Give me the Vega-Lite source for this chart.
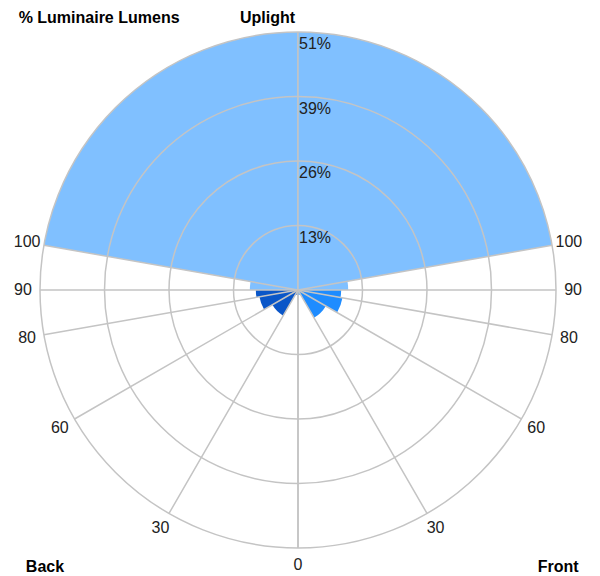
{
  "$schema": "https://vega.github.io/schema/vega-lite/v6.json",
  "width": 596,
  "height": 500,
  "autosize": "none",
  "padding": {"left": 0, "top": 40, "right": 4, "bottom": 36},
  "config": {"view": {"stroke": null}, "text": {"font": "Liberation Sans", "fontSize": 16, "fill": "#222222"}},
  "datasets": {
    "zones": [
      {"zone": "UH", "side": "Back", "group": "Uplight", "from": 100, "to": 180, "pct": 51.4},
      {"zone": "UL", "side": "Back", "group": "Uplight", "from": 90, "to": 100, "pct": 9.6},
      {"zone": "BVH", "side": "Back", "group": "Backlight", "from": 80, "to": 90, "pct": 8.4},
      {"zone": "BH", "side": "Back", "group": "Backlight", "from": 60, "to": 80, "pct": 7.8},
      {"zone": "BM", "side": "Back", "group": "Backlight", "from": 30, "to": 60, "pct": 5.9},
      {"zone": "BL", "side": "Back", "group": "Backlight", "from": 0, "to": 30, "pct": 1.0},
      {"zone": "UH", "side": "Front", "group": "Uplight", "from": 100, "to": 180, "pct": 51.4},
      {"zone": "UL", "side": "Front", "group": "Uplight", "from": 90, "to": 100, "pct": 10.0},
      {"zone": "FVH", "side": "Front", "group": "Forward", "from": 80, "to": 90, "pct": 8.6},
      {"zone": "FH", "side": "Front", "group": "Forward", "from": 60, "to": 80, "pct": 9.0},
      {"zone": "FM", "side": "Front", "group": "Forward", "from": 30, "to": 60, "pct": 6.4},
      {"zone": "FL", "side": "Front", "group": "Forward", "from": 0, "to": 30, "pct": 1.0}
    ],
    "spokes": [{"angle": 0}, {"angle": 30}, {"angle": 60}, {"angle": 80}, {"angle": 90}, {"angle": 100}, {"angle": 180}],
    "rings": [{"ring": 12.85, "label": "13%"}, {"ring": 25.7, "label": "26%"}, {"ring": 38.55, "label": "39%"}, {"ring": 51.4, "label": "51%"}],
    "annotations": [{"label": "Back", "side": "Back"}, {"label": "Front", "side": "Front"}, {"label": "Uplight", "side": "Top"}, {"label": "% Luminaire Lumens", "side": "Title"}]
  },
  "resolve": {"scale": {"theta": "independent"}},
  "layer": [
    {
      "layer": [
        {
          "data": {"name": "zones"},
          "transform": [{"filter": "datum.side === 'Back'"}],
          "mark": {"type": "arc"},
          "encoding": {
            "theta": {"field": "from", "type": "quantitative", "stack": false, "scale": {"domain": [0, 180], "range": [3.14159265, 6.28318531]}},
            "theta2": {"field": "to"},
            "radius": {"field": "pct", "type": "quantitative", "scale": {"domain": [0, 51.4], "range": [0, 258], "zero": true, "nice": false}},
            "color": {"field": "group", "type": "nominal", "scale": {"domain": ["Uplight", "Backlight", "Forward"], "range": ["#80C0FF", "#0A56C8", "#1E8CFF"]}, "legend": null}
          }
        },
        {
          "data": {"name": "rings"},
          "mark": {"type": "arc", "filled": false, "stroke": "#C4C4C4", "strokeWidth": 1.5},
          "encoding": {
            "theta": {"datum": 0, "type": "quantitative", "stack": false, "scale": {"domain": [0, 180], "range": [3.14159265, 6.28318531]}},
            "theta2": {"datum": 180},
            "radius": {"field": "ring", "type": "quantitative", "scale": {"domain": [0, 51.4], "range": [0, 258], "zero": true, "nice": false}},
            "radius2": {"field": "ring"}
          }
        },
        {
          "data": {"name": "spokes"},
          "mark": {"type": "arc", "filled": false, "stroke": "#C4C4C4", "strokeWidth": 1.5},
          "encoding": {
            "theta": {"field": "angle", "type": "quantitative", "stack": false, "scale": {"domain": [0, 180], "range": [3.14159265, 6.28318531]}},
            "theta2": {"field": "angle"},
            "radius": {"datum": 51.4, "type": "quantitative", "scale": {"domain": [0, 51.4], "range": [0, 258], "zero": true, "nice": false}},
            "radius2": {"datum": 0}
          }
        },
        {
          "data": {"name": "spokes"},
          "transform": [{"filter": "datum.angle < 180"}],
          "mark": {"type": "text", "align": "center", "baseline": "middle"},
          "encoding": {
            "theta": {"field": "angle", "type": "quantitative", "stack": false, "scale": {"domain": [0, 180], "range": [3.14159265, 6.28318531]}},
            "radius": {"datum": 54.8, "type": "quantitative", "scale": {"domain": [0, 51.4], "range": [0, 258], "zero": true, "nice": false}},
            "text": {"field": "angle", "type": "nominal"}
          }
        },
        {
          "data": {"name": "annotations"},
          "transform": [{"filter": "datum.side === 'Back'"}],
          "mark": {"type": "text", "align": "center", "baseline": "middle", "fontWeight": "bold", "fill": "#000000"},
          "encoding": {
            "theta": {"datum": 42.4, "type": "quantitative", "stack": false, "scale": {"domain": [0, 180], "range": [3.14159265, 6.28318531]}},
            "radius": {"datum": 74.75, "type": "quantitative", "scale": {"domain": [0, 51.4], "range": [0, 258], "zero": true, "nice": false}},
            "text": {"field": "label", "type": "nominal"}
          }
        },
        {
          "data": {"name": "annotations"},
          "transform": [{"filter": "datum.side === 'Title'"}],
          "mark": {"type": "text", "align": "center", "baseline": "middle", "fontWeight": "bold", "fill": "#000000"},
          "encoding": {
            "theta": {"datum": 143.8, "type": "quantitative", "stack": false, "scale": {"domain": [0, 180], "range": [3.14159265, 6.28318531]}},
            "radius": {"datum": 67.1, "type": "quantitative", "scale": {"domain": [0, 51.4], "range": [0, 258], "zero": true, "nice": false}},
            "text": {"field": "label", "type": "nominal"}
          }
        },
        {
          "data": {"name": "annotations"},
          "transform": [{"filter": "datum.side === 'Top'"}],
          "mark": {"type": "text", "align": "right", "baseline": "middle", "fontWeight": "bold", "fill": "#000000", "dx": -3},
          "encoding": {
            "theta": {"datum": 180, "type": "quantitative", "stack": false, "scale": {"domain": [0, 180], "range": [3.14159265, 6.28318531]}},
            "radius": {"datum": 54.2, "type": "quantitative", "scale": {"domain": [0, 51.4], "range": [0, 258], "zero": true, "nice": false}},
            "text": {"field": "label", "type": "nominal"}
          }
        }
      ]
    },
    {
      "layer": [
        {
          "data": {"name": "zones"},
          "transform": [{"filter": "datum.side === 'Front'"}],
          "mark": {"type": "arc"},
          "encoding": {
            "theta": {"field": "from", "type": "quantitative", "stack": false, "scale": {"domain": [0, 180], "range": [3.14159265, 0]}},
            "theta2": {"field": "to"},
            "radius": {"field": "pct", "type": "quantitative", "scale": {"domain": [0, 51.4], "range": [0, 258], "zero": true, "nice": false}},
            "color": {"field": "group", "type": "nominal", "scale": {"domain": ["Uplight", "Backlight", "Forward"], "range": ["#80C0FF", "#0A56C8", "#1E8CFF"]}, "legend": null}
          }
        },
        {
          "data": {"name": "rings"},
          "mark": {"type": "arc", "filled": false, "stroke": "#C4C4C4", "strokeWidth": 1.5},
          "encoding": {
            "theta": {"datum": 0, "type": "quantitative", "stack": false, "scale": {"domain": [0, 180], "range": [3.14159265, 0]}},
            "theta2": {"datum": 180},
            "radius": {"field": "ring", "type": "quantitative", "scale": {"domain": [0, 51.4], "range": [0, 258], "zero": true, "nice": false}},
            "radius2": {"field": "ring"}
          }
        },
        {
          "data": {"name": "spokes"},
          "mark": {"type": "arc", "filled": false, "stroke": "#C4C4C4", "strokeWidth": 1.5},
          "encoding": {
            "theta": {"field": "angle", "type": "quantitative", "stack": false, "scale": {"domain": [0, 180], "range": [3.14159265, 0]}},
            "theta2": {"field": "angle"},
            "radius": {"datum": 51.4, "type": "quantitative", "scale": {"domain": [0, 51.4], "range": [0, 258], "zero": true, "nice": false}},
            "radius2": {"datum": 0}
          }
        },
        {
          "data": {"name": "spokes"},
          "transform": [{"filter": "datum.angle > 0 && datum.angle < 180"}],
          "mark": {"type": "text", "align": "center", "baseline": "middle"},
          "encoding": {
            "theta": {"field": "angle", "type": "quantitative", "stack": false, "scale": {"domain": [0, 180], "range": [3.14159265, 0]}},
            "radius": {"datum": 54.8, "type": "quantitative", "scale": {"domain": [0, 51.4], "range": [0, 258], "zero": true, "nice": false}},
            "text": {"field": "angle", "type": "nominal"}
          }
        },
        {
          "data": {"name": "rings"},
          "mark": {"type": "text", "align": "left", "baseline": "middle", "dx": 1, "dy": 12},
          "encoding": {
            "theta": {"datum": 180, "type": "quantitative", "stack": false, "scale": {"domain": [0, 180], "range": [3.14159265, 0]}},
            "radius": {"field": "ring", "type": "quantitative", "scale": {"domain": [0, 51.4], "range": [0, 258], "zero": true, "nice": false}},
            "text": {"field": "label", "type": "nominal"}
          }
        },
        {
          "data": {"name": "annotations"},
          "transform": [{"filter": "datum.side === 'Front'"}],
          "mark": {"type": "text", "align": "center", "baseline": "middle", "fontWeight": "bold", "fill": "#000000"},
          "encoding": {
            "theta": {"datum": 43.2, "type": "quantitative", "stack": false, "scale": {"domain": [0, 180], "range": [3.14159265, 0]}},
            "radius": {"datum": 75.7, "type": "quantitative", "scale": {"domain": [0, 51.4], "range": [0, 258], "zero": true, "nice": false}},
            "text": {"field": "label", "type": "nominal"}
          }
        }
      ]
    }
  ]
}
